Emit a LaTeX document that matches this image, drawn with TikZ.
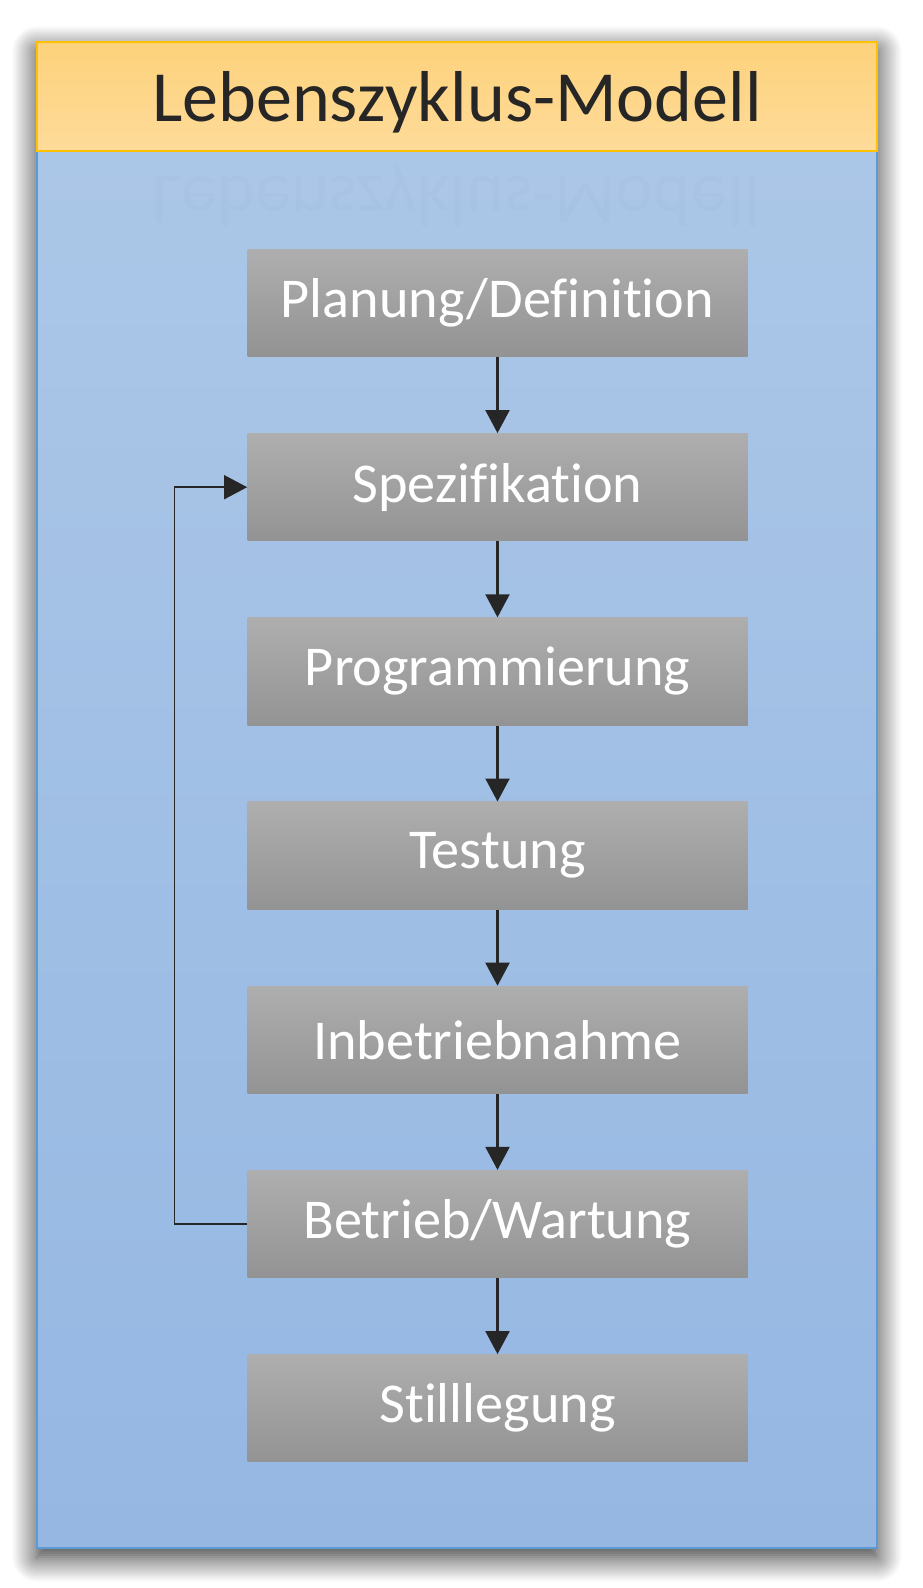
\documentclass[tikz,border=0pt]{standalone}
\usepackage{fontspec}
\setmainfont{Carlito}[Ligatures=NoCommon]
\usetikzlibrary{arrows.meta,positioning,shadows.blur}

\definecolor{paneltop}{HTML}{ADC8E8}
\definecolor{panelbot}{HTML}{95B7E2}
\definecolor{panelline}{HTML}{5B9BD5}
\definecolor{headtop}{HTML}{FDD27B}
\definecolor{headbot}{HTML}{FEDB9A}
\definecolor{headline}{HTML}{FFC000}
\definecolor{greytop}{HTML}{AEAEAE}
\definecolor{greybot}{HTML}{939393}
\definecolor{linedark}{HTML}{262626}

\begin{document}
\begin{tikzpicture}[
  font=\fontsize{32}{40}\selectfont,
  node distance=1.52cm,
  panel/.style={rectangle, top color=paneltop, bottom color=panelbot, draw=panelline, line width=1.1pt,
                minimum width=16.8cm, minimum height=30.12cm, inner sep=0pt},
  header/.style={rectangle, top color=headtop, bottom color=headbot, draw=headline, line width=1.1pt,
                 minimum width=16.8cm, minimum height=2.18cm, inner sep=0pt, text=linedark,
                 text depth=0pt, font=\fontsize{41}{48}\selectfont},
  ghost/.style={text=linedark, opacity=0.015, text depth=0pt, font=\fontsize{41}{48}\selectfont},
  stage/.style={rectangle, top color=greytop, bottom color=greybot, text=white,
                minimum width=10cm, minimum height=2.15cm, inner sep=0pt},
  arrow/.style={-{Triangle[length=0.46cm, width=0.48cm]}, line width=1.2pt, draw=linedark},
  back/.style={-{Triangle[length=0.46cm, width=0.48cm]}, line width=0.9pt, draw=linedark}
]
\useasboundingbox (0,0) rectangle (18.44,-31.76);

% frame with title bar
\node[panel, anchor=north west,
      blur shadow={shadow xshift=0cm, shadow yshift=-0.18cm, shadow blur radius=0.5cm,
                   shadow blur steps=14, shadow opacity=85}]
      (panel) at (0.72,-0.82) {};
\node[header, anchor=north west] (title) at (0.72,-0.82) {Lebenszyklus-Modell};
\node[ghost, yscale=-1, transform shape] (mirror) at (9.12,-4.04) {Lebenszyklus-Modell};

% stages
\node[stage] (plan) at (9.95,-6.06) {Planung/Definition};
\node[stage, below=of plan] (spec) {Spezifikation};
\node[stage, below=of spec] (prog) {Programmierung};
\node[stage, below=of prog] (test) {Testung};
\node[stage, below=of test] (inbetr) {Inbetriebnahme};
\node[stage, below=of inbetr] (betrieb) {Betrieb/Wartung};
\node[stage, below=of betrieb] (still) {Stilllegung};

\draw[arrow] (plan) -- (spec);
\draw[arrow] (spec) -- (prog);
\draw[arrow] (prog) -- (test);
\draw[arrow] (test) -- (inbetr);
\draw[arrow] (inbetr) -- (betrieb);
\draw[arrow] (betrieb) -- (still);
\draw[back] (betrieb.west) -- ++(-1.45,0) |- (spec.west);
\end{tikzpicture}
\end{document}
